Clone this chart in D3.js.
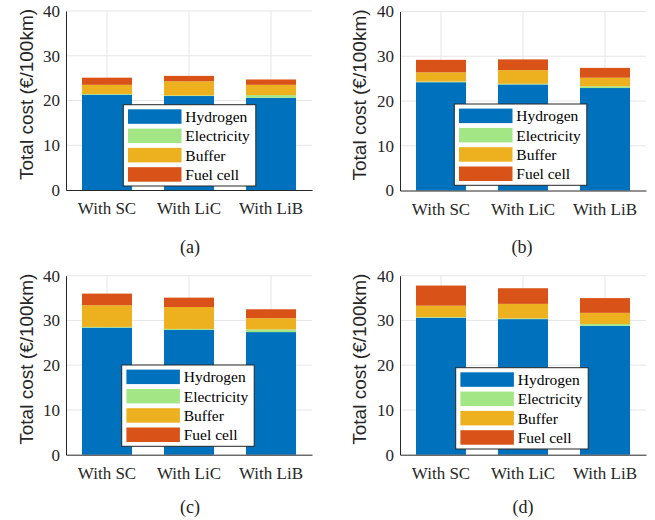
<!DOCTYPE html>
<html>
<head>
<meta charset="utf-8">
<script src="https://cdn.jsdelivr.net/npm/d3@7"></script>
<style>
  html, body { margin: 0; padding: 0; background: #fff; }
  svg { display: block; }
</style>
</head>
<body>
<svg id="chart" width="655" height="520"></svg>
<script>
// ---- Data ----
const categories = ["With SC", "With LiC", "With LiB"];
const seriesNames = ["Hydrogen", "Electricity", "Buffer", "Fuel cell"];
const seriesColors = ["#0072BD", "#A2E685", "#EDB120", "#D95319"];
const panelLabels = ["(a)", "(b)", "(c)", "(d)"];
const yTicks = [0, 10, 20, 30, 40];
// values per panel: [SC, LiC, LiB]
const hydrogen    = [[21.3, 21.0, 20.6], [24.2, 23.7, 22.9], [28.4, 27.9, 27.4], [30.6, 30.3, 28.8]];
const electricity = [[0.15, 0.15, 0.6],  [0.15, 0.15, 0.4],  [0.15, 0.2, 0.6],   [0.15, 0.15, 0.4]];
const buffer      = [[2.05, 3.15, 2.3],  [2.05, 3.05, 1.9],  [4.85, 4.9, 2.5],   [2.55, 3.25, 2.5]];
const fuelCell    = [[1.6, 1.2, 1.2],    [2.8, 2.4, 2.2],    [2.6, 2.1, 2.0],    [4.5, 3.5, 3.3]];

// ---- Layout ----
const panels = [
  { left: 66,  top: 11,    legX: 57.3, legY: 93.7, capX: 190, capY: 247, ylx: 27 },
  { left: 400, top: 11.5,  legX: 54.3, legY: 92.5, capX: 522, capY: 247, ylx: 360 },
  { left: 66,  top: 275.7, legX: 55.7, legY: 89.3, capX: 190, capY: 507, ylx: 27 },
  { left: 400, top: 275.7, legX: 55.7, legY: 92.0, capX: 523, capY: 507, ylx: 360 }
];
const W = 246, H = 179;
const svg = d3.select("#chart");
const serif = "Liberation Serif";
const sans = "Liberation Sans";

panels.forEach((p, pi) => {
  const g = svg.append("g").attr("transform", `translate(${p.left},${p.top})`);
  const x = d3.scaleBand().domain(categories).range([0, W]).paddingInner(0.39).paddingOuter(0.195);
  const y = d3.scaleLinear().domain([0, 40]).range([H, 0]);

  // grid
  g.selectAll(".hg").data(yTicks.slice(1)).enter().append("line")
    .attr("x1", 0).attr("x2", W).attr("y1", d => y(d)).attr("y2", d => y(d))
    .attr("stroke", "#e6e6e6").attr("stroke-width", 1);
  g.selectAll(".vg").data(categories).enter().append("line")
    .attr("x1", d => x(d) + x.bandwidth() / 2).attr("x2", d => x(d) + x.bandwidth() / 2)
    .attr("y1", 0).attr("y2", H)
    .attr("stroke", "#e6e6e6").attr("stroke-width", 1);

  // stacked data
  const rows = categories.map((c, i) => ({
    cat: c,
    Hydrogen: hydrogen[pi][i],
    Electricity: electricity[pi][i],
    Buffer: buffer[pi][i],
    "Fuel cell": fuelCell[pi][i]
  }));
  const stacked = d3.stack().keys(seriesNames)(rows);
  stacked.forEach((s, si) => {
    g.selectAll(null).data(s).enter().append("rect")
      .attr("x", d => x(d.data.cat))
      .attr("width", x.bandwidth())
      .attr("y", d => y(d[1]))
      .attr("height", d => y(d[0]) - y(d[1]))
      .attr("fill", seriesColors[si]);
  });

  // axes
  const yAxis = d3.axisLeft(y).tickValues(yTicks).tickSize(0).tickPadding(6);
  const ya = g.append("g").call(yAxis);
  ya.select(".domain").attr("stroke", "#262626");
  ya.selectAll("text").style("font-family", serif).style("font-size", "17px").attr("fill", "#262626");

  const xAxis = d3.axisBottom(x).tickSize(0).tickPadding(12);
  const xa = g.append("g").attr("transform", `translate(0,${H})`).call(xAxis);
  xa.select(".domain").attr("stroke", "#262626");
  xa.selectAll("text").style("font-family", serif).style("font-size", "17px").attr("fill", "#262626");

  // y label
  svg.append("text")
    .attr("transform", `translate(${p.ylx + 6},${p.top + H / 2 - 6}) rotate(-90)`)
    .attr("text-anchor", "middle")
    .style("font-family", sans).style("font-size", "19px").attr("fill", "#262626")
    .text("Total cost (€/100km)");

  // legend
  const lg = g.append("g").attr("transform", `translate(${p.legX},${p.legY})`);
  lg.append("rect").attr("width", 132.5).attr("height", 81.3)
    .attr("fill", "#fff").attr("stroke", "#262626").attr("stroke-width", 1);
  seriesNames.forEach((n, i) => {
    lg.append("rect").attr("x", 4.7).attr("y", 4.6 + i * 19.3)
      .attr("width", 53.5).attr("height", 14.5).attr("fill", seriesColors[i]);
    lg.append("text").attr("x", 62).attr("y", 12 + i * 19.3).attr("dy", "0.35em")
      .style("font-family", serif).style("font-size", "15.5px").attr("fill", "#000")
      .text(n);
  });

  // caption
  svg.append("text").attr("x", p.capX).attr("y", p.capY).attr("dy", "0.35em")
    .attr("text-anchor", "middle")
    .style("font-family", serif).style("font-size", "18px").attr("fill", "#222")
    .text(panelLabels[pi]);
});
</script>
</body>
</html>
